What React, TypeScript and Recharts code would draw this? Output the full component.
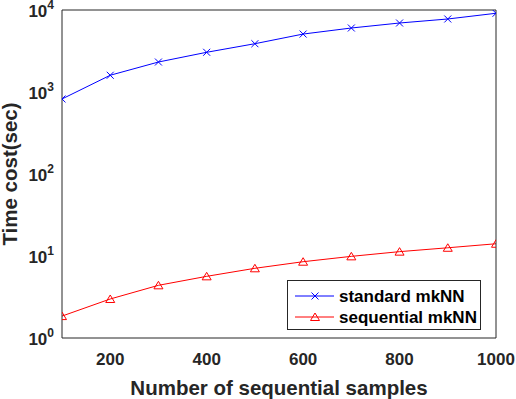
import React from 'react';
import { LineChart, Line, XAxis, YAxis, Legend, Label } from 'recharts';

const samples = [100, 200, 300, 400, 500, 600, 700, 800, 900, 1000];
const standardMkNN = [822, 1600, 2320, 3050, 3880, 5090, 6030, 6940, 7770, 9120];
const sequentialMkNN = [1.85, 2.99, 4.39, 5.65, 7.08, 8.52, 9.9, 11.3, 12.6, 14.1];

const xTicks = [200, 400, 600, 800, 1000];
const yTicks = [1, 10, 100, 1000, 10000];
// minor log ticks 2..9 in each decade
const yMinorTicks = yTicks.slice(0, -1).flatMap(d => [2, 3, 4, 5, 6, 7, 8, 9].map(m => m * d));
const yAllTicks = [...yTicks, ...yMinorTicks];

const data = samples.map((n, i) => ({
    n,
    standard: standardMkNN[i],
    sequential: sequentialMkNN[i],
}));

const FONT = '"Liberation Sans", Arial, Helvetica, sans-serif';
const AXIS = '#262626';
const BLUE = '#0000FF';
const RED = '#FF0000';

const CrossMark = ({ cx, cy, color }: { cx: number; cy: number; color: string }) => (
    <g stroke={color} strokeWidth={1}>
        <line x1={cx - 3.5} y1={cy - 3.5} x2={cx + 3.5} y2={cy + 3.5} />
        <line x1={cx - 3.5} y1={cy + 3.5} x2={cx + 3.5} y2={cy - 3.5} />
    </g>
);

const TriangleMark = ({ cx, cy, color }: { cx: number; cy: number; color: string }) => (
    <polygon
        points={`${cx},${cy - 4} ${cx - 4.5},${cy + 3.5} ${cx + 4.5},${cy + 3.5}`}
        fill="none"
        stroke={color}
        strokeWidth={1}
    />
);

const PowerTick = (props: any) => {
    const { x, y, payload } = props;
    const exp = Math.round(Math.log10(payload.value));
    return (
        <text x={x} y={y} textAnchor="end" fontFamily={FONT} fontWeight="bold" fill={AXIS}>
            <tspan fontSize={17} dy={7}>10</tspan>
            <tspan fontSize={12} dy={-8}>{exp}</tspan>
        </text>
    );
};

const LegendBox = () => (
    <svg width={194} height={50} style={{ display: 'block' }}>
        <rect x={0.5} y={0.5} width={193} height={49} fill="#fff" stroke={AXIS} strokeWidth={1} />
        <line x1={8} y1={16} x2={47} y2={16} stroke={BLUE} strokeWidth={1} />
        <CrossMark cx={28} cy={16} color={BLUE} />
        <text x={52} y={16} dy={6} fontSize={17} fontWeight="bold" fontFamily={FONT} fill="#000">standard mkNN</text>
        <line x1={8} y1={37} x2={47} y2={37} stroke={RED} strokeWidth={1} />
        <TriangleMark cx={28} cy={37} color={RED} />
        <text x={52} y={37} dy={6} fontSize={17} fontWeight="bold" fontFamily={FONT} fill="#000">sequential mkNN</text>
    </svg>
);

const App: React.FC = () => {
    return (
        <div style={{ position: 'absolute', left: 0, top: 0, background: '#fff' }}>
            <LineChart width={516} height={399} data={data} margin={{ top: 10, right: 20, bottom: 0, left: 0 }}>
                <XAxis
                    xAxisId="bottom"
                    dataKey="n"
                    type="number"
                    domain={[100, 1000]}
                    ticks={xTicks}
                    allowDataOverflow
                    height={61}
                    stroke={AXIS}
                    tickLine={false}
                    tickSize={0}
                    tickMargin={15}
                    tick={{ fontSize: 17, fontWeight: 'bold', fill: AXIS, fontFamily: FONT }}
                >
                    <Label
                        value="Number of sequential samples"
                        position="insideBottom"
                        offset={4}
                        style={{ fontSize: 20.5, fontWeight: 'bold', fill: AXIS, fontFamily: FONT }}
                    />
                </XAxis>
                <XAxis
                    xAxisId="bottomTicks"
                    dataKey="n"
                    type="number"
                    domain={[100, 1000]}
                    ticks={xTicks}
                    allowDataOverflow
                    mirror
                    axisLine={false}
                    tick={false}
                    tickSize={4}
                    stroke={AXIS}
                />
                <XAxis
                    xAxisId="top"
                    orientation="top"
                    dataKey="n"
                    type="number"
                    domain={[100, 1000]}
                    ticks={xTicks}
                    allowDataOverflow
                    mirror
                    tick={false}
                    tickSize={4}
                    stroke={AXIS}
                />
                <YAxis
                    yAxisId="left"
                    scale="log"
                    domain={[1, 10000]}
                    ticks={yTicks}
                    allowDataOverflow
                    width={62}
                    stroke={AXIS}
                    tickLine={false}
                    tickSize={0}
                    tickMargin={8}
                    tick={<PowerTick />}
                >
                    <Label
                        content={({ viewBox }: any) => {
                            const cy = viewBox.y + viewBox.height / 2;
                            return (
                                <text
                                    x={17}
                                    y={cy}
                                    transform={`rotate(-90, 17, ${cy})`}
                                    textAnchor="middle"
                                    fontSize={20.5}
                                    fontWeight="bold"
                                    fontFamily={FONT}
                                    fill={AXIS}
                                >
                                    Time cost(sec)
                                </text>
                            );
                        }}
                    />
                </YAxis>
                <YAxis
                    yAxisId="leftTicks"
                    scale="log"
                    domain={[1, 10000]}
                    ticks={yAllTicks}
                    allowDataOverflow
                    mirror
                    axisLine={false}
                    tick={false}
                    tickSize={4}
                    stroke={AXIS}
                />
                <YAxis
                    yAxisId="right"
                    orientation="right"
                    scale="log"
                    domain={[1, 10000]}
                    ticks={yAllTicks}
                    allowDataOverflow
                    mirror
                    tick={false}
                    tickSize={4}
                    stroke={AXIS}
                />
                <Legend
                    layout="horizontal"
                    verticalAlign="middle"
                    align="center"
                    wrapperStyle={{ left: 287, top: 280, width: 194, height: 50 }}
                    content={() => <LegendBox />}
                />
                <Line
                    xAxisId="bottom"
                    yAxisId="left"
                    dataKey="standard"
                    name="standard mkNN"
                    stroke={BLUE}
                    strokeWidth={1}
                    isAnimationActive={false}
                    dot={(p: any) => <CrossMark key={`s-${p.index}`} cx={p.cx} cy={p.cy} color={BLUE} />}
                    activeDot={false}
                />
                <Line
                    xAxisId="bottom"
                    yAxisId="left"
                    dataKey="sequential"
                    name="sequential mkNN"
                    stroke={RED}
                    strokeWidth={1}
                    isAnimationActive={false}
                    dot={(p: any) => <TriangleMark key={`q-${p.index}`} cx={p.cx} cy={p.cy} color={RED} />}
                    activeDot={false}
                />
            </LineChart>
        </div>
    );
};

export default App;
